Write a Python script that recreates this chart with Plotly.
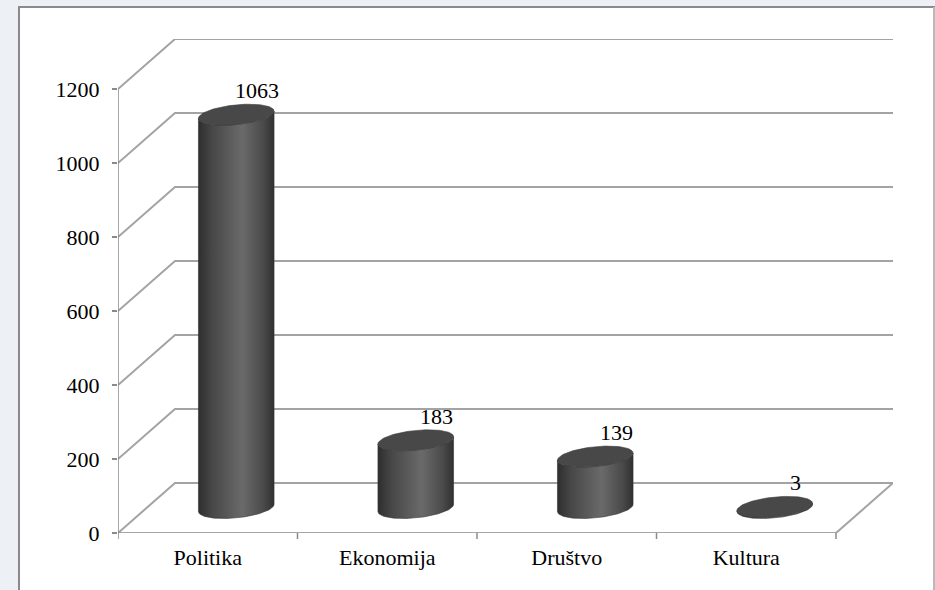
import numpy as np
import plotly.graph_objects as go

# ---- data ----
categories = ["Politika", "Ekonomija", "Društvo", "Kultura"]
values = [1063, 183, 139, 3]
y_ticks = [0, 200, 400, 600, 800, 1000, 1200]

# ---- layout geometry (pixels) ----
W, H = 935, 590
ML, MR, MT, MB = 118, 42, 39, 57
plot_w = W - ML - MR
plot_h = H - MT - MB
depth_px = (57, 50)          # oblique depth offset of the back wall
ymax = y_ticks[-1]

x0, x1 = -0.5, len(categories) - 0.5
px_per_x = (plot_w - depth_px[0]) / (x1 - x0)
px_per_y = (plot_h - depth_px[1]) / ymax
DX = depth_px[0] / px_per_x
DY = depth_px[1] / px_per_y

# cylinder ellipse shape (pixels)
A, B, C = 35.5, 13.0, 10.5
t0 = np.arctan2(B, A)

FONT = "Liberation Serif, 'Times New Roman', serif"


def ell(cx, cy, t):
    return (cx + (A * np.cos(t) + B * np.sin(t)) / px_per_x,
            cy + (C * np.sin(t)) / px_per_y)


fig = go.Figure()

# ---- back wall gridlines + left wall diagonals ----
gx, gy = [], []
for v in y_ticks:
    gx += [x0, x0 + DX, x1 + DX, None]
    gy += [v, v + DY, v + DY, None]
gx += [x1, x1 + DX, None]
gy += [0, DY, None]
fig.add_trace(go.Scatter(x=gx, y=gy, mode="lines",
                         line=dict(color="#a3a3a3", width=2),
                         hoverinfo="skip", showlegend=False))

# ---- front axis lines ----
fig.add_trace(go.Scatter(x=[x0, x0, None, x0, x1], y=[ymax, 0, None, 0, 0],
                         mode="lines", line=dict(color="#8a8a8a", width=1.5),
                         hoverinfo="skip", showlegend=False))

# ---- cylinders ----
body_scale = [[0, "#2e2e2e"], [0.18, "#474747"], [0.58, "#6a6a6a"],
              [0.86, "#4a4a4a"], [1, "#303030"]]
for i, v in enumerate(values):
    cx = i + DX / 2
    cy0 = DY / 2
    cy1 = cy0 + v
    tf = np.linspace(t0 + np.pi, t0 + 2 * np.pi, 60)
    bx, by = ell(cx, cy0, tf)
    tx, ty = ell(cx, cy1, tf[::-1])
    px = np.concatenate([bx, tx, bx[:1]])
    py = np.concatenate([by, ty, by[:1]])
    fig.add_trace(go.Scatter(x=px, y=py, mode="lines", fill="toself",
                             fillgradient=dict(type="horizontal", colorscale=body_scale),
                             line=dict(color="#363636", width=0.6),
                             hoverinfo="skip", showlegend=False))
    ta = np.linspace(0, 2 * np.pi, 100)
    ex, ey = ell(cx, cy1, ta)
    fig.add_trace(go.Scatter(x=ex, y=ey, mode="lines", fill="toself",
                             fillcolor="#484848",
                             line=dict(color="#3c3c3c", width=0.6),
                             hoverinfo="skip", showlegend=False))
    fig.add_annotation(x=cx, y=cy1, text=str(v), showarrow=False,
                       xshift=21, yshift=24,
                       font=dict(family=FONT, size=22, color="#000"))

# ---- category boundary ticks ----
shapes = []
for k in range(len(categories) + 1):
    xb = x0 + k
    shapes.append(dict(type="line", xref="x", yref="paper", x0=xb, x1=xb,
                       y0=0, y1=-6 / plot_h, line=dict(color="#8a8a8a", width=1.5)))
# chart frame
shapes.append(dict(type="rect", xref="paper", yref="paper", layer="below",
                   x0=(19 - ML) / plot_w, x1=(W - 1 - ML) / plot_w,
                   y0=-(H + 5 - MT - plot_h) / plot_h, y1=(MT + plot_h - 7) / plot_h,
                   fillcolor="white", line=dict(color="#8a8a8a", width=2)))
# faint right border
shapes.append(dict(type="line", xref="paper", yref="paper", layer="below",
                   x0=(W - 1 - ML) / plot_w, x1=(W - 1 - ML) / plot_w,
                   y0=-(H + 5 - MT - plot_h) / plot_h, y1=(MT + plot_h - 7) / plot_h,
                   line=dict(color="#e4e8ec", width=1)))

fig.update_layout(
    width=W, height=H,
    margin=dict(l=ML, r=MR, t=MT, b=MB),
    paper_bgcolor="#edf1f5", plot_bgcolor="rgba(0,0,0,0)",
    shapes=shapes,
    font=dict(family=FONT, size=22, color="#000"),
    xaxis=dict(range=[x0, x1 + DX], tickmode="array",
               tickvals=list(range(len(categories))), ticktext=categories,
               ticks="", showgrid=False, zeroline=False, showline=False,
               ticklabelstandoff=9, fixedrange=True),
    yaxis=dict(range=[0, ymax + DY], tickmode="array", tickvals=y_ticks,
               ticks="outside", ticklen=5, tickwidth=1.5, tickcolor="#8a8a8a",
               showgrid=False, zeroline=False, showline=False,
               ticklabelstandoff=8, fixedrange=True),
)

fig.write_html(
    "out.html",
    config={"displayModeBar": False, "staticPlot": True},
    post_script="document.body.style.margin='0';document.body.style.overflow='hidden';"
                "document.body.style.background='#edf1f5';",
)
